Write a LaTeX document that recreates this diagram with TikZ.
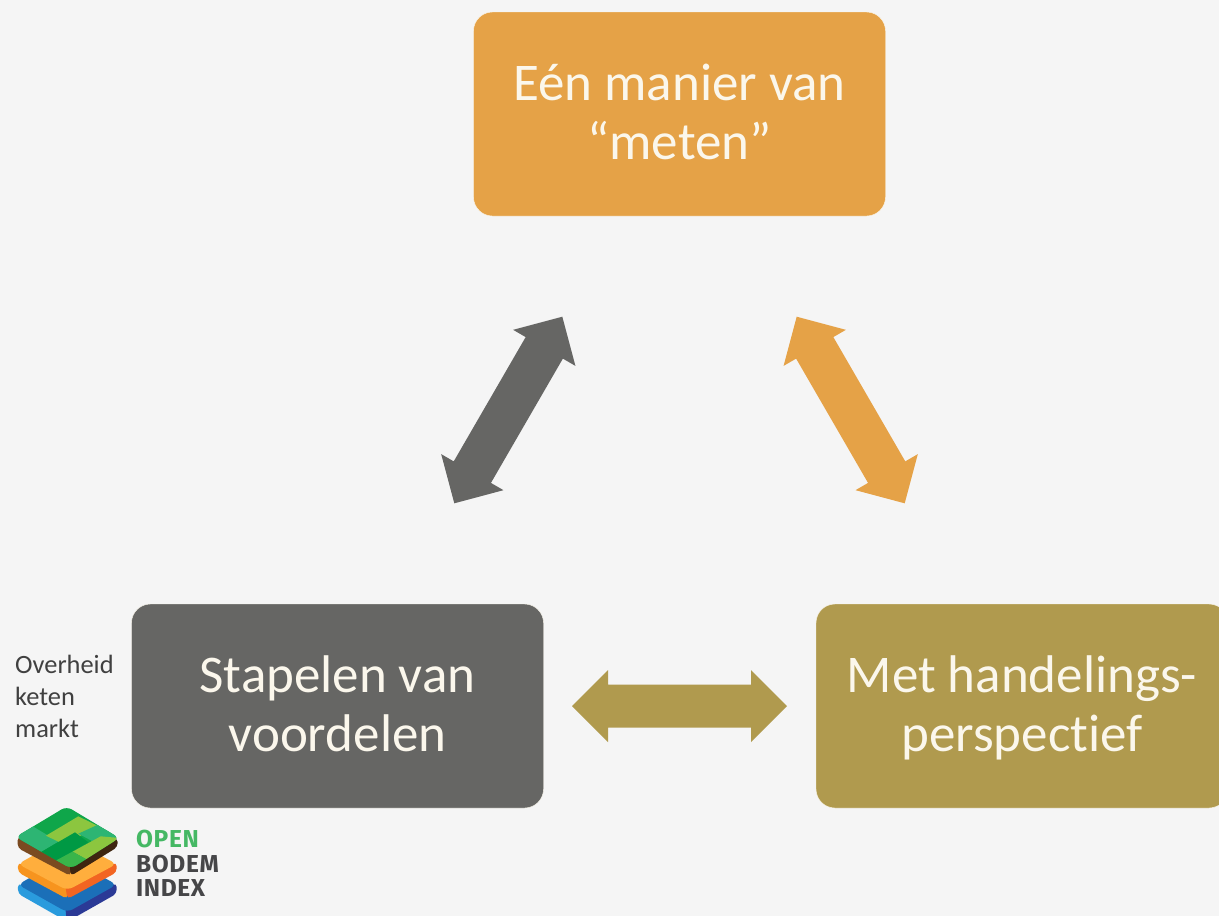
\documentclass[tikz,border=0pt]{standalone}
\usepackage{fontspec}
\setmainfont[Ligatures=NoCommon]{Carlito}
\newfontfamily\brandfont[LetterSpace=2.5]{Fira Sans}
\usetikzlibrary{calc}
\definecolor{bg}{HTML}{F5F5F5}
\definecolor{gold}{HTML}{E5A247}
\definecolor{slate}{HTML}{666664}
\definecolor{olive}{HTML}{B09A4E}
\definecolor{cream}{HTML}{FBF7EC}
\newcommand\tl{\rule{0pt}{43pt}}
\newcommand\bl{\rule[-12pt]{0pt}{12pt}}
% block arrow with two heads between two named coordinates
\newcommand\blocklink[3]{%
  \fill[#3]
    (#1)
    -- ($(#1)!36pt!(#2)!36pt!90:(#2)$)
    -- ($(#1)!36pt!(#2)!21.5pt!90:(#2)$)
    -- ($(#2)!36pt!(#1)!21.5pt!-90:(#1)$)
    -- ($(#2)!36pt!(#1)!36pt!-90:(#1)$)
    -- (#2)
    -- ($(#2)!36pt!(#1)!36pt!90:(#1)$)
    -- ($(#2)!36pt!(#1)!21.5pt!90:(#1)$)
    -- ($(#1)!36pt!(#2)!21.5pt!-90:(#2)$)
    -- ($(#1)!36pt!(#2)!36pt!-90:(#2)$)
    -- cycle;}
\tikzset{
  x=1pt,y=-1pt,
  box/.style={rounded corners=19pt,minimum width=412pt,minimum height=204pt,inner sep=0pt,align=center,text=cream,font=\fontsize{53}{59}\selectfont,draw=cream,line width=.4pt},
  small/.style={anchor=west,inner sep=0pt,text=black!75,font=\fontsize{26.4}{32}\selectfont,align=left},
  brand/.style={anchor=base west,inner sep=0pt,font=\brandfont\bfseries\fontsize{24.5}{25}\selectfont},
}
\begin{document}
\begin{tikzpicture}
\useasboundingbox (0,0) rectangle (1219,916);
\clip (0,0) rectangle (1219,916);
\fill[bg] (0,0) rectangle (1219,916);
\node[box,fill=gold] (meten) at (679.5,114) {\tl Eén manier van\\“meten”\bl};
\node[box,fill=slate] (stapelen) at (337.5,706) {\tl Stapelen van\\voordelen\bl};
\node[box,fill=olive] (met) at (1022,706) {\tl Met handelings-\\perspectief\bl};
\coordinate (g1) at (454.3,503.3);
\coordinate (g2) at (562.3,316.7);
\coordinate (o1) at (904.7,503.3);
\coordinate (o2) at (796.7,316.7);
\coordinate (h1) at (572,706);
\coordinate (h2) at (787,706);
\blocklink{g1}{g2}{slate}
\blocklink{o1}{o2}{gold}
\blocklink{h1}{h2}{olive}
\node[small] (lbl) at (15,696) {Overheid\\keten\\markt};
\begin{scope}[shift={(10,803)},x=0.3333pt,y=-0.3333pt]
  % blue layer
  \fill[rounded corners=4pt,color={rgb,255:red,42;green,155;blue,221}] (24,240) -- (24,272) -- (170,355) -- (175,300) -- cycle;
  \fill[rounded corners=4pt,color={rgb,255:red,43;green,58;blue,150}] (320,240) -- (320,272) -- (170,357) -- (165,300) -- cycle;
  \fill[rounded corners=6pt,color={rgb,255:red,27;green,111;blue,184}] (24,245) -- (110,195) -- (230,195) -- (320,245) -- (172,328) -- cycle;
  % orange layer
  \fill[rounded corners=4pt,color={rgb,255:red,247;green,148;blue,30}] (24,178) -- (24,208) -- (172,288) -- (175,240) -- cycle;
  \fill[rounded corners=4pt,color={rgb,255:red,242;green,101;blue,34}] (320,178) -- (320,208) -- (172,288) -- (165,240) -- cycle;
  \fill[rounded corners=6pt,color={rgb,255:red,255;green,174;blue,61}] (24,183) -- (110,135) -- (230,135) -- (320,183) -- (172,262) -- cycle;
  % top layer: soil
  \fill[rounded corners=4pt,color={rgb,255:red,122;green,74;blue,32}] (23,100) -- (23,135) -- (182,219) -- (187,150) -- cycle;
  \fill[rounded corners=4pt,color={rgb,255:red,62;green,37;blue,16}] (323,105) -- (323,132) -- (182,219) -- (177,150) -- cycle;
  % top layer: grass
  \begin{scope}
    \clip[rounded corners=6pt] (170,10) -- (328,105) -- (183,197) -- (17,102) -- cycle;
    \fill[color={rgb,255:red,15;green,166;blue,74}] (0,0) rectangle (345,200);
    \fill[color={rgb,255:red,45;green,181;blue,115}] (10,90) -- (65,68) -- (145,116) -- (85,152) -- (40,130) -- cycle;
    \fill[color={rgb,255:red,140;green,198;blue,63}] (108,98) -- (205,40) -- (262,68) -- (165,126) -- cycle;
    \fill[color={rgb,255:red,0;green,153;blue,68}] (85,152) -- (195,88) -- (235,118) -- (128,178) -- cycle;
    \fill[color={rgb,255:red,45;green,181;blue,115}] (205,92) -- (262,66) -- (330,105) -- (272,128) -- cycle;
    \fill[color={rgb,255:red,140;green,198;blue,63}] (188,146) -- (272,100) -- (330,105) -- (235,172) -- cycle;
    \fill[color={rgb,255:red,57;green,181;blue,74}] (128,178) -- (188,146) -- (235,172) -- (183,200) -- cycle;
  \end{scope}
\end{scope}
\node[brand,text={rgb,255:red,69;green,184;blue,100}] (bopen) at (136,847.5) {OPEN};
\node[brand,text={rgb,255:red,70;green,70;blue,72}] (bbodem) at (136,872) {BODEM};
\node[brand,text={rgb,255:red,70;green,70;blue,72}] (bindex) at (136,896) {INDEX};
\end{tikzpicture}
\end{document}
